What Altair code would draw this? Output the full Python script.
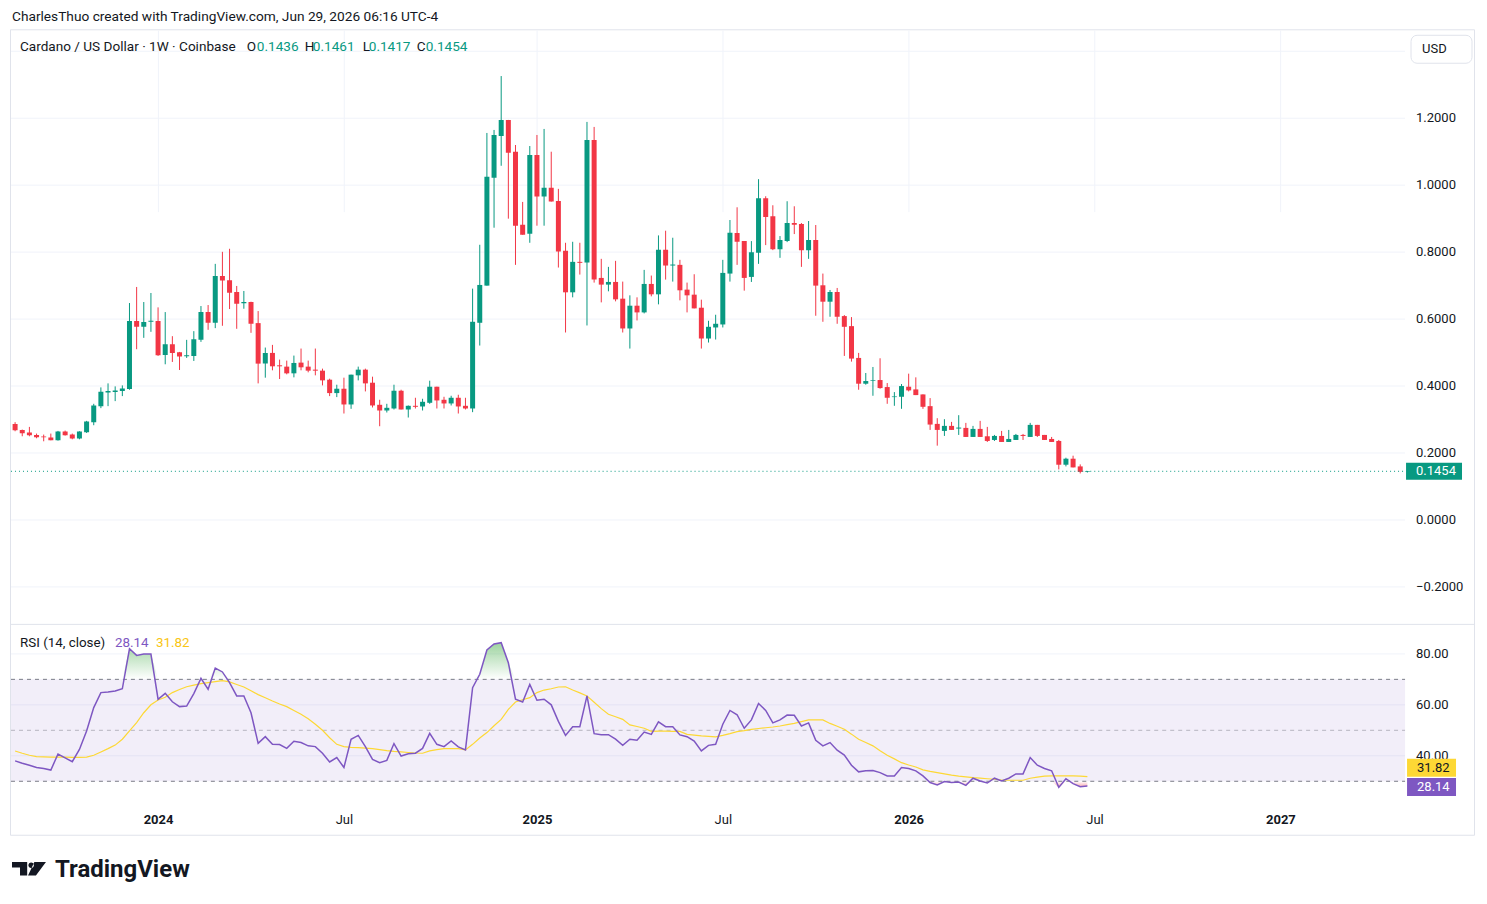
import altair as alt
import pandas as pd

# ---------------- data (weekly ADA/USD) ----------------
opens = [0.287, 0.269, 0.261, 0.254, 0.249, 0.246, 0.238, 0.264, 0.255, 0.243,
         0.262, 0.292, 0.340, 0.381, 0.382, 0.385, 0.391, 0.594, 0.577, 0.592,
         0.594, 0.493, 0.525, 0.501, 0.489, 0.490, 0.538, 0.621, 0.589, 0.729,
         0.716, 0.681, 0.647, 0.651, 0.588, 0.467, 0.499, 0.462, 0.458, 0.438,
         0.470, 0.458, 0.449, 0.446, 0.419, 0.379, 0.392, 0.345, 0.432, 0.449,
         0.410, 0.344, 0.327, 0.333, 0.386, 0.330, 0.341, 0.339, 0.350, 0.398,
         0.359, 0.348, 0.365, 0.341, 0.333, 0.589, 0.700, 1.022, 1.147, 1.195,
         1.100, 0.882, 0.855, 1.090, 0.966, 0.992, 0.953, 0.804, 0.680, 0.771,
         0.769, 1.135, 0.723, 0.703, 0.711, 0.661, 0.572, 0.640, 0.620, 0.705,
         0.674, 0.807, 0.760, 0.762, 0.688, 0.673, 0.634, 0.542, 0.575, 0.584,
         0.736, 0.857, 0.833, 0.726, 0.798, 0.961, 0.907, 0.809, 0.833, 0.887,
         0.884, 0.806, 0.836, 0.701, 0.652, 0.681, 0.609, 0.579, 0.484, 0.407,
         0.416, 0.418, 0.397, 0.367, 0.368, 0.398, 0.390, 0.375, 0.340, 0.287,
         0.266, 0.281, 0.273, 0.275, 0.248, 0.272, 0.250, 0.239, 0.251, 0.233,
         0.239, 0.254, 0.248, 0.284, 0.254, 0.242, 0.236, 0.165, 0.183, 0.160,
         0.1436]
highs = [0.292, 0.270, 0.278, 0.258, 0.255, 0.258, 0.266, 0.267, 0.258, 0.265,
         0.296, 0.347, 0.396, 0.408, 0.399, 0.402, 0.648, 0.696, 0.651, 0.678,
         0.635, 0.621, 0.549, 0.502, 0.538, 0.564, 0.639, 0.642, 0.765, 0.801,
         0.810, 0.699, 0.684, 0.652, 0.624, 0.515, 0.523, 0.479, 0.476, 0.491,
         0.512, 0.476, 0.512, 0.452, 0.422, 0.404, 0.425, 0.434, 0.458, 0.452,
         0.428, 0.359, 0.347, 0.404, 0.389, 0.342, 0.365, 0.362, 0.416, 0.398,
         0.368, 0.371, 0.374, 0.365, 0.691, 0.822, 1.156, 1.165, 1.326, 1.195,
         1.120, 0.950, 1.117, 1.150, 1.168, 1.100, 0.989, 0.828, 0.831, 0.828,
         1.189, 1.174, 0.780, 0.756, 0.774, 0.712, 0.671, 0.665, 0.747, 0.730,
         0.850, 0.864, 0.843, 0.777, 0.709, 0.734, 0.658, 0.595, 0.613, 0.777,
         0.896, 0.934, 0.833, 0.833, 1.018, 0.967, 0.940, 0.848, 0.952, 0.937,
         0.887, 0.893, 0.881, 0.736, 0.687, 0.693, 0.612, 0.606, 0.499, 0.439,
         0.457, 0.483, 0.409, 0.382, 0.406, 0.437, 0.426, 0.375, 0.364, 0.304,
         0.301, 0.293, 0.313, 0.290, 0.281, 0.296, 0.278, 0.254, 0.266, 0.269,
         0.257, 0.257, 0.290, 0.284, 0.254, 0.248, 0.239, 0.186, 0.192, 0.166,
         0.1461]
lows = [0.265, 0.250, 0.250, 0.244, 0.235, 0.238, 0.237, 0.252, 0.241, 0.241,
        0.260, 0.283, 0.334, 0.340, 0.355, 0.370, 0.389, 0.510, 0.544, 0.562,
        0.490, 0.465, 0.472, 0.448, 0.484, 0.475, 0.532, 0.568, 0.573, 0.580,
        0.630, 0.571, 0.631, 0.559, 0.408, 0.425, 0.447, 0.421, 0.435, 0.426,
        0.447, 0.441, 0.432, 0.402, 0.370, 0.367, 0.318, 0.332, 0.417, 0.384,
        0.336, 0.280, 0.321, 0.330, 0.330, 0.306, 0.333, 0.327, 0.347, 0.333,
        0.333, 0.342, 0.318, 0.330, 0.322, 0.521, 0.700, 0.873, 1.058, 0.900,
        0.762, 0.852, 0.828, 0.879, 0.879, 0.951, 0.754, 0.560, 0.665, 0.733,
        0.581, 0.709, 0.650, 0.683, 0.653, 0.560, 0.512, 0.596, 0.617, 0.668,
        0.644, 0.718, 0.712, 0.656, 0.620, 0.632, 0.512, 0.530, 0.539, 0.575,
        0.712, 0.762, 0.685, 0.711, 0.765, 0.821, 0.806, 0.783, 0.830, 0.854,
        0.756, 0.780, 0.610, 0.592, 0.607, 0.586, 0.490, 0.473, 0.389, 0.404,
        0.371, 0.392, 0.347, 0.341, 0.332, 0.384, 0.373, 0.332, 0.269, 0.222,
        0.251, 0.269, 0.254, 0.248, 0.248, 0.248, 0.233, 0.236, 0.233, 0.233,
        0.239, 0.239, 0.248, 0.248, 0.239, 0.233, 0.151, 0.160, 0.157, 0.139,
        0.1417]
closes = [0.268, 0.259, 0.253, 0.247, 0.247, 0.238, 0.264, 0.253, 0.243, 0.264,
          0.294, 0.342, 0.383, 0.385, 0.387, 0.393, 0.594, 0.577, 0.591, 0.595,
          0.492, 0.525, 0.499, 0.488, 0.492, 0.540, 0.621, 0.589, 0.729, 0.715,
          0.679, 0.646, 0.651, 0.586, 0.467, 0.499, 0.459, 0.459, 0.438, 0.469,
          0.456, 0.446, 0.446, 0.417, 0.379, 0.392, 0.345, 0.434, 0.449, 0.408,
          0.342, 0.327, 0.335, 0.386, 0.330, 0.341, 0.338, 0.353, 0.398, 0.357,
          0.348, 0.365, 0.339, 0.333, 0.592, 0.702, 1.025, 1.150, 1.195, 1.097,
          0.879, 0.852, 1.090, 0.966, 0.992, 0.951, 0.802, 0.680, 0.771, 0.768,
          1.135, 0.718, 0.703, 0.711, 0.659, 0.572, 0.640, 0.620, 0.705, 0.674,
          0.807, 0.760, 0.763, 0.686, 0.671, 0.632, 0.542, 0.577, 0.586, 0.738,
          0.858, 0.831, 0.723, 0.800, 0.961, 0.905, 0.809, 0.836, 0.887, 0.882,
          0.806, 0.836, 0.700, 0.652, 0.681, 0.607, 0.577, 0.482, 0.407, 0.415,
          0.418, 0.394, 0.365, 0.369, 0.400, 0.387, 0.373, 0.338, 0.285, 0.269,
          0.281, 0.269, 0.276, 0.248, 0.272, 0.248, 0.236, 0.251, 0.233, 0.242,
          0.254, 0.251, 0.284, 0.251, 0.239, 0.233, 0.165, 0.183, 0.157, 0.1436,
          0.1454]
rsi_vals = [38.0, 37.1, 36.3, 35.4, 35.0, 34.4, 40.7, 39.2, 37.7, 42.5,
            49.7, 58.9, 64.8, 65.0, 65.4, 66.3, 82.0, 79.4, 79.9, 79.9,
            62.2, 64.5, 61.2, 59.3, 59.5, 64.4, 70.4, 66.1, 74.4, 72.9,
            68.7, 63.5, 63.5, 56.9, 44.9, 47.5, 44.5, 44.4, 42.9, 45.7,
            45.2, 43.9, 43.6, 41.0, 37.6, 39.3, 35.4, 46.5, 48.0, 43.6,
            38.6, 37.3, 38.2, 44.8, 39.9, 40.8, 41.0, 42.9, 48.8, 44.5,
            43.6, 45.8, 43.5, 42.3, 66.7, 72.0, 81.5, 83.9, 84.4, 76.5,
            62.2, 61.1, 68.0, 61.8, 62.2, 60.0, 53.5, 48.0, 51.4, 51.4,
            63.5, 48.7, 48.3, 48.3, 46.5, 44.1, 46.5, 46.1, 49.3, 48.4,
            53.3, 51.4, 51.4, 48.2, 47.5, 45.8, 41.9, 44.1, 44.5, 52.4,
            57.8, 56.1, 50.8, 54.1, 60.5, 57.8, 52.9, 54.1, 56.0, 55.9,
            51.7, 52.9, 46.1, 43.9, 45.2, 42.2, 40.3, 36.3, 33.7, 34.1,
            34.2, 33.4, 32.1, 32.1, 35.4, 35.0, 34.1, 32.1, 29.5, 28.6,
            29.9, 29.5, 29.7, 28.4, 31.2, 30.1, 29.3, 31.2, 30.1, 31.2,
            32.9, 32.9, 39.3, 36.3, 35.0, 34.1, 27.6, 31.0, 29.1, 27.9,
            28.14]
rsi_ma = [41.9, 41.0, 40.2, 39.7, 39.6, 39.5, 39.5, 39.5, 39.4, 39.4,
          39.5, 40.2, 41.5, 42.8, 44.2, 46.5, 49.8, 53.0, 56.9, 60.0,
          61.9, 63.0, 64.8, 66.0, 67.1, 67.7, 68.3, 68.7, 69.1, 69.5,
          69.0, 68.0, 67.0, 65.5, 64.0, 62.8, 61.5, 60.3, 59.3, 57.8,
          56.3, 54.5, 52.4, 50.0, 47.1, 44.5, 43.6, 43.3, 43.2, 43.0,
          42.8, 42.4, 42.0, 41.7, 41.5, 41.3, 41.1, 41.0, 41.9, 42.4,
          42.8, 42.8, 42.8, 42.3, 44.5, 47.0, 49.1, 51.8, 54.3, 58.2,
          61.1, 62.0, 62.8, 64.8, 65.8, 66.3, 67.0, 67.1, 65.8, 64.7,
          63.5, 61.0, 58.5, 56.3, 55.3, 54.3, 52.1, 51.5, 50.8, 49.6,
          49.7, 49.7, 49.6, 49.6, 48.4, 48.1, 47.8, 47.6, 47.4, 48.0,
          48.7, 49.5, 49.9, 50.4, 50.7, 51.0, 51.3, 51.7, 52.2, 52.7,
          53.4, 54.1, 54.1, 54.1, 52.7, 51.6, 50.4, 48.5, 46.5, 45.2,
          43.9, 42.0, 40.2, 38.8, 37.3, 36.4, 35.6, 34.5, 33.9, 33.4,
          32.9, 32.4, 32.0, 31.7, 31.4, 31.2, 31.0, 30.8, 30.5, 30.4,
          30.4, 30.4, 31.2, 31.6, 32.0, 32.1, 32.1, 32.1, 32.1, 32.0,
          31.82]

price_ticks = [-0.2, 0.0, 0.2, 0.4, 0.6, 0.8, 1.0, 1.2]
price_grid = [-0.2, 0.0, 0.2, 0.4, 0.6, 0.8, 1.0, 1.2, 1.4]
rsi_ticks = [40, 60, 80]
rsi_upper, rsi_mid, rsi_lower = 70, 50, 30
time_tick_idx = [20, 46, 73, 99, 125, 151, 177]
time_tick_lbl = ["2024", "Jul", "2025", "Jul", "2026", "Jul", "2027"]
last_price = 0.1454
last_rsi = 28.14
last_rsi_ma = 31.82
ohlc_keys = ["O", "H", "L", "C"]
ohlc_last = [0.1436, 0.1461, 0.1417, 0.1454]
symbol_text = "Cardano / US Dollar \u00b7 1W \u00b7 Coinbase"
rsi_title = "RSI (14, close)"
attribution = "CharlesThuo created with TradingView.com, Jun 29, 2026 06:16 UTC-4"
currency = "USD"
brand = "TradingView"

# ---------------- styling / geometry ----------------
GREEN, RED = "#089981", "#F23645"
PURPLE, YELLOW = "#7E57C2", "#FDD835"
TXT, GRID, BORDER = "#131722", "#F0F3FA", "#E0E3EB"
FONT = "Roboto"
W, H, PH = 1395, 776, 594.5
X_MIN, X_MAX = 0.125, 193.74
P_MIN, P_MAX = -0.3119, 1.4627
R_MIN, R_MAX = 20.39, 91.57

n = len(closes)
df = pd.DataFrame({"i": list(range(n)), "open": opens, "high": highs, "low": lows,
                   "close": closes, "rsi": rsi_vals, "ma": rsi_ma})
df["dir"] = ["up" if c >= o else "down" for o, c in zip(opens, closes)]


def ps():
    return alt.Scale(domain=[P_MIN, P_MAX], range=[PH, 0], zero=False, nice=False)


def rs():
    return alt.Scale(domain=[R_MIN, R_MAX], range=[H, PH], zero=False, nice=False)


label_expr = ""
for v, l in zip(time_tick_idx, time_tick_lbl):
    label_expr += f"datum.value == {v} ? '{l}' : "
label_expr += "''"
year_test = " || ".join(f"datum.value == {v}" for v, l in zip(time_tick_idx, time_tick_lbl) if l != "Jul")

x_axis = alt.Axis(values=time_tick_idx, labelExpr=label_expr, grid=True, gridColor=GRID,
                  gridWidth=1, domain=False, ticks=False, labelPadding=8, labelFont=FONT,
                  labelFontSize=13, labelColor=TXT, labelFlush=False, title=None,
                  labelFontWeight={"condition": {"test": year_test, "value": "bold"}, "value": "normal"})


def xe():
    return alt.X("i:Q", scale=alt.Scale(domain=[X_MIN, X_MAX], zero=False, nice=False), axis=x_axis)


col = alt.Color("dir:N", scale=alt.Scale(domain=["up", "down"], range=[GREEN, RED]), legend=None)
one = pd.DataFrame({"k": [0]})
layers = []

# frame and pane separator
layers.append(alt.Chart(one).mark_rect(fillOpacity=0, stroke=BORDER, strokeWidth=1).encode(
    x=alt.value(-0.5), x2=alt.value(1464.5), y=alt.value(-0.5), y2=alt.value(805.5)))
layers.append(alt.Chart(one).mark_rule(color=BORDER, strokeWidth=1).encode(
    x=alt.value(-0.5), x2=alt.value(1464.5), y=alt.value(PH)))

# grids
layers.append(alt.Chart(pd.DataFrame({"p": price_grid})).mark_rule(color=GRID).encode(
    y=alt.Y("p:Q", scale=ps(), axis=None), x=alt.value(0), x2=alt.value(W)))
layers.append(alt.Chart(pd.DataFrame({"r": rsi_ticks})).mark_rule(color=GRID).encode(
    y=alt.Y("r:Q", scale=rs(), axis=None), x=alt.value(0), x2=alt.value(W)))

# RSI band and levels
layers.append(alt.Chart(pd.DataFrame({"a": [rsi_upper], "b": [rsi_lower]})).mark_rect(
    color=PURPLE, opacity=0.1).encode(
    y=alt.Y("a:Q", scale=rs(), axis=None), y2="b:Q", x=alt.value(0), x2=alt.value(W)))
layers.append(alt.Chart(pd.DataFrame({"r": [rsi_upper, rsi_lower]})).mark_rule(
    color="#787B86", strokeDash=[4, 4], strokeWidth=1).encode(
    y=alt.Y("r:Q", scale=rs(), axis=None), x=alt.value(0), x2=alt.value(W)))
layers.append(alt.Chart(pd.DataFrame({"r": [rsi_mid]})).mark_rule(
    color="#787B86", strokeDash=[4, 4], strokeWidth=1, opacity=0.5).encode(
    y=alt.Y("r:Q", scale=rs(), axis=None), x=alt.value(0), x2=alt.value(W)))

# overbought / oversold fills
grad_green = alt.Gradient(gradient="linear", x1=0, x2=0, y1=0, y2=1, stops=[
    alt.GradientStop(color="rgba(76,175,80,0.55)", offset=0),
    alt.GradientStop(color="rgba(76,175,80,0.0)", offset=1)])
grad_red = alt.Gradient(gradient="linear", x1=0, x2=0, y1=0, y2=1, stops=[
    alt.GradientStop(color="rgba(242,54,69,0.0)", offset=0),
    alt.GradientStop(color="rgba(242,54,69,0.45)", offset=1)])
layers.append(alt.Chart(df).transform_calculate(
    hi=f"max(datum.rsi, {rsi_upper})", base=f"{rsi_upper}").mark_area(
    color=grad_green, clip=True).encode(
    x=xe(), y=alt.Y("hi:Q", scale=rs(), axis=None), y2="base:Q"))
layers.append(alt.Chart(df).transform_calculate(
    lo=f"min(datum.rsi, {rsi_lower})", base=f"{rsi_lower}").mark_area(
    color=grad_red, clip=True).encode(
    x=xe(), y=alt.Y("base:Q", scale=rs(), axis=None), y2="lo:Q"))

# RSI lines
layers.append(alt.Chart(df).mark_line(color=YELLOW, strokeWidth=1.2, clip=True).encode(
    x=xe(), y=alt.Y("ma:Q", scale=rs(), axis=None)))
layers.append(alt.Chart(df).mark_line(color=PURPLE, strokeWidth=1.5, clip=True).encode(
    x=xe(), y=alt.Y("rsi:Q", scale=rs(), axis=None)))

# candles
layers.append(alt.Chart(df).mark_rule(strokeWidth=1, clip=True).encode(
    x=xe(), y=alt.Y("low:Q", scale=ps(), axis=None), y2="high:Q", color=col))
layers.append(alt.Chart(df).mark_bar(size=5, clip=True).encode(
    x=xe(), y=alt.Y("open:Q", scale=ps(), axis=None), y2="close:Q", color=col))

# last price dotted line
lp = pd.DataFrame({"p": [last_price]})
layers.append(alt.Chart(lp).mark_rule(color=GREEN, strokeDash=[1, 3], strokeWidth=1).encode(
    y=alt.Y("p:Q", scale=ps(), axis=None), x=alt.value(0), x2=alt.value(W)))

# price axis labels
layers.append(alt.Chart(pd.DataFrame({"p": price_ticks})).mark_text(
    align="left", baseline="middle", font=FONT, fontSize=13, color=TXT).encode(
    x=alt.value(W + 11), y=alt.Y("p:Q", scale=ps(), axis=None), text=alt.Text("p:Q", format=".4f")))
# rsi axis labels
layers.append(alt.Chart(pd.DataFrame({"r": rsi_ticks})).mark_text(
    align="left", baseline="middle", font=FONT, fontSize=13, color=TXT).encode(
    x=alt.value(W + 11), y=alt.Y("r:Q", scale=rs(), axis=None), text=alt.Text("r:Q", format=".2f")))


def box_path(w, h):
    r = h / w
    return f"M-1,{-r:.4f} L1,{-r:.4f} L1,{r:.4f} L-1,{r:.4f} Z"


# last price box
layers.append(alt.Chart(lp).mark_point(shape=box_path(56, 17), size=56 * 56, filled=True,
                                        opacity=1, color=GREEN, strokeWidth=0).encode(
    x=alt.value(W + 29), y=alt.Y("p:Q", scale=ps(), axis=None)))
layers.append(alt.Chart(lp).mark_text(align="left", baseline="middle", font=FONT, fontSize=13,
                                       color="white").encode(
    x=alt.value(W + 11), y=alt.Y("p:Q", scale=ps(), axis=None), text=alt.Text("p:Q", format=".4f")))

# RSI value boxes
for val, bg, fg, dy in [(last_rsi_ma, YELLOW, TXT, -9), (last_rsi, PURPLE, "white", 1)]:
    d = pd.DataFrame({"r": [val]})
    layers.append(alt.Chart(d).mark_point(shape=box_path(49, 18), size=49 * 49, filled=True,
                                           opacity=1, color=bg, strokeWidth=0, yOffset=dy).encode(
        x=alt.value(W + 26.5), y=alt.Y("r:Q", scale=rs(), axis=None)))
    layers.append(alt.Chart(d).mark_text(align="left", baseline="middle", font=FONT, fontSize=13,
                                          color=fg, yOffset=dy).encode(
        x=alt.value(W + 12), y=alt.Y("r:Q", scale=rs(), axis=None), text=alt.Text("r:Q", format=".2f")))


def text_layer(txt, x, y, color=TXT, size=13, weight="normal"):
    return alt.Chart(pd.DataFrame({"t": [txt]})).mark_text(
        align="left", baseline="middle", font=FONT, fontSize=size, color=color,
        fontWeight=weight).encode(x=alt.value(x), y=alt.value(y), text="t:N")


# header texts
layers.append(text_layer(attribution, 1, -13, size=13.7))
layers.append(text_layer(symbol_text, 9, 17, size=13.6))
key_x = [236, 294, 352, 406]
val_x = [246, 302, 358, 415]
for k, v, kx, vx in zip(ohlc_keys, ohlc_last, key_x, val_x):
    layers.append(text_layer(k, kx, 17, size=13.6))
    layers.append(text_layer(f"{v:.4f}", vx, 17, color=GREEN, size=13.6))

# RSI legend
layers.append(text_layer(rsi_title, 9, 613, size=13.4))
layers.append(text_layer(f"{last_rsi:.2f}", 104, 613, color=PURPLE, size=13.4))
layers.append(text_layer(f"{last_rsi_ma:.2f}", 145, 613, color="#F9C513", size=13.4))

# USD box
layers.append(alt.Chart(one).mark_rect(fill="white", stroke=BORDER, strokeWidth=1, cornerRadius=6).encode(
    x=alt.value(1401), x2=alt.value(1462), y=alt.value(5), y2=alt.value(33)))
layers.append(text_layer(currency, 1412, 19))

# TradingView logo
logo_path = ("M-1,-0.398 L-0.106,-0.398 L-0.106,0.398 L-0.528,0.398 L-0.528,-0.067 L-1,-0.067 Z "
             "M-0.035,-0.208 A0.162,0.162 0 1,0 0.289,-0.208 A0.162,0.162 0 1,0 -0.035,-0.208 Z "
             "M0.317,-0.398 L1,-0.398 L0.408,0.398 L-0.056,0.398 Z")
layers.append(alt.Chart(one).mark_point(shape=logo_path, size=34 * 34, filled=True, opacity=1,
                                        color=TXT, strokeWidth=0).encode(
    x=alt.value(18), y=alt.value(839)))
layers.append(text_layer(brand, 44, 840, size=24, weight="bold"))

chart = alt.layer(*layers).resolve_scale(y="independent").properties(
    width=W, height=H,
    padding={"left": 3, "top": 22, "right": 74, "bottom": 90},
    autosize="none", background="white",
).configure_view(strokeWidth=0)

chart.save("out.html", embed_options={"renderer": "svg", "actions": False})
